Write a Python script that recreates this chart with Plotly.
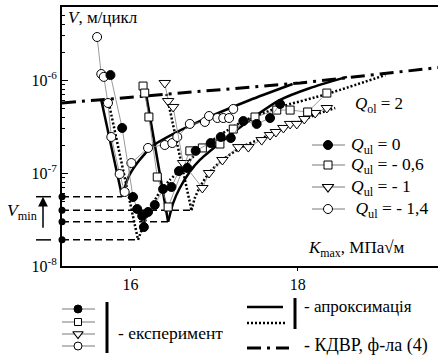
import math
import plotly.graph_objects as go

# ---------------- data ----------------
# experimental points, Q_ul = 0 (filled circles)
K_q0 = [15.76, 15.90, 16.03, 16.08, 16.14, 16.16, 16.21, 16.29, 16.39, 16.49,
        16.58, 16.68, 16.78, 16.96, 17.08, 17.20, 17.35, 17.51, 17.67, 17.79]
V_q0 = [1.13e-6, 3.05e-7, 5.52e-8, 4.10e-8, 3.45e-8, 2.62e-8, 3.81e-8, 4.53e-8, 6.73e-8, 7.07e-8,
        1.05e-7, 1.13e-7, 1.73e-7, 2.10e-7, 2.44e-7, 2.38e-7, 3.62e-7, 3.37e-7, 3.90e-7, 5.52e-7]
# Q_ul = -0.6 (squares)
K_q06 = [16.15, 16.17, 16.22, 16.32, 16.45, 16.71, 16.86, 17.07, 17.23, 17.49, 17.75, 17.91, 18.12, 18.35]
V_q06 = [8.61e-7, 7.24e-7, 4.00e-7, 9.06e-8, 4.31e-8, 1.73e-7, 1.86e-7, 2.05e-7, 2.97e-7, 4.00e-7,
         4.75e-7, 4.75e-7, 4.53e-7, 7.24e-7]
# Q_ul = -1 (triangles)
K_q1 = [16.41, 16.45, 16.51, 16.63, 16.86, 16.94, 17.10, 17.29, 17.41, 17.57, 17.67, 17.74,
        17.83, 17.91, 17.99, 18.08, 18.21, 18.35]
V_q1 = [9.29e-7, 5.94e-7, 5.13e-7, 1.28e-7, 6.90e-8, 1.00e-7, 1.38e-7, 1.90e-7, 1.90e-7, 2.26e-7,
        2.56e-7, 2.76e-7, 3.05e-7, 3.37e-7, 3.37e-7, 3.81e-7, 4.42e-7, 5.00e-7]
# Q_ul = -1.4 (open circles)
K_q14 = [15.60, 15.65, 15.68, 15.73, 15.77, 15.87, 15.93, 16.01, 16.21, 16.41, 16.50, 16.56,
         16.71, 16.89, 16.94, 17.04, 17.11, 17.18, 17.23]
V_q14 = [2.90e-6, 1.16e-6, 1.08e-6, 5.66e-7, 2.44e-7, 9.75e-8, 6.25e-8, 1.28e-7, 1.86e-7, 2.00e-7,
         2.10e-7, 2.44e-7, 3.37e-7, 3.54e-7, 4.10e-7, 3.90e-7, 3.90e-7, 3.90e-7, 4.88e-7]

# approximation curves: left (falling) branch and right (rising) branch
A14_left_K = [15.65, 15.90]
A14_left_V = [6.10e-7, 5.56e-8]
A14_right_K = [15.90, 15.97, 16.08, 16.26, 16.53, 16.83, 17.43, 17.94]
A14_right_V = [5.56e-8, 8.84e-8, 1.28e-7, 1.95e-7, 2.69e-7, 3.62e-7, 6.10e-7, 9.06e-7]

A0_left_K = [15.73, 16.09]
A0_left_V = [6.25e-7, 1.91e-8]
A0_right_K = [16.09, 16.17, 16.26, 16.35, 16.47, 16.63, 16.83, 17.07, 17.35, 17.79, 18.35, 19.05]
A0_right_V = [1.91e-8, 2.97e-8, 4.53e-8, 6.25e-8, 8.41e-8, 1.16e-7, 1.77e-7, 2.56e-7, 3.62e-7,
              5.13e-7, 7.06e-7, 1.13e-6]

A06_left_K = [16.19, 16.45]
A06_left_V = [6.73e-7, 2.99e-8]
A06_right_K = [16.45, 16.51, 16.59, 16.71, 16.83, 17.07, 17.43, 17.79, 18.15, 18.59]
A06_right_V = [2.99e-8, 4.75e-8, 6.90e-8, 1.03e-7, 1.38e-7, 2.10e-7, 3.72e-7, 6.10e-7, 8.20e-7, 1.08e-6]

A1_left_K = [16.43, 16.73]
A1_left_V = [7.06e-7, 3.97e-8]
A1_right_K = [16.73, 16.77, 16.83, 16.95, 17.10, 17.31, 17.55, 17.79, 18.03, 18.27, 18.45]
A1_right_V = [3.97e-8, 5.38e-8, 7.07e-8, 1.03e-7, 1.38e-7, 1.86e-7, 2.32e-7, 2.90e-7, 3.62e-7,
              4.42e-7, 5.00e-7]

# КДВР, formula (4)
K_kdvr = [15.18, 17.07, 18.03, 19.68]
V_kdvr = [5.66e-7, 7.79e-7, 9.29e-7, 1.36e-6]

# minimum rates V_min and the K where they occur
Vmin = [5.56e-8, 1.91e-8, 2.99e-8, 3.97e-8]
Kmin = [15.90, 16.09, 16.45, 16.73]

K_RANGE = [15.18, 19.68]
LOGV_RANGE = [-8.0, -5.215]
y_tickvals = [1e-8, 1e-7, 1e-6]
y_ticktext = ["10<sup>-8</sup>", "10<sup>-7</sup>", "10<sup>-6</sup>"]
x_tickvals = [16, 18]
x_ticktext = ["16", "18"]
q_labels = ["<i>Q</i><sub>ul</sub> = 0", "<i>Q</i><sub>ul</sub> = - 0,6",
            "<i>Q</i><sub>ul</sub> = - 1", " <i>Q</i><sub>ul</sub> = - 1,4"]

# ---------------- figure ----------------
W, H = 438, 355
FONT = "Liberation Serif"
BLACK = "black"
GRAY = "#808080"
DOT = "2px,2px"
DASHDOT = "14px,6px,3px,6px"

fig = go.Figure()

def line_tr(x, y, dash="solid", width=2.5, spline=False, **kw):
    ln = dict(color=BLACK, width=width, dash=dash)
    if spline:
        ln.update(shape="spline", smoothing=0.5)
    return go.Scatter(x=x, y=y, mode="lines", line=ln, showlegend=False, hoverinfo="skip", **kw)

# dashed V_min levels
for km, vm in zip(Kmin, Vmin):
    fig.add_trace(line_tr([K_RANGE[0], km], [vm, vm], dash="7px,4px", width=1.5))

# KDVR
fig.add_trace(line_tr(K_kdvr, V_kdvr, dash=DASHDOT, width=3))

# approximations
fig.add_trace(line_tr(A14_left_K, A14_left_V))
fig.add_trace(line_tr(A14_right_K, A14_right_V, spline=True))
fig.add_trace(line_tr(A06_left_K, A06_left_V))
fig.add_trace(line_tr(A06_right_K, A06_right_V, spline=True))
fig.add_trace(line_tr(A0_left_K, A0_left_V, dash=DOT))
fig.add_trace(line_tr(A0_right_K, A0_right_V, dash=DOT, spline=True))
fig.add_trace(line_tr(A1_left_K, A1_left_V, dash=DOT))
fig.add_trace(line_tr(A1_right_K, A1_right_V, dash=DOT, spline=True))

# experiments
series = [
    (K_q14, V_q14, dict(symbol="circle", color="white", size=9, line=dict(color=BLACK, width=1))),
    (K_q1, V_q1, dict(symbol="triangle-down", color="white", size=10, line=dict(color=BLACK, width=1))),
    (K_q06, V_q06, dict(symbol="square", color="white", size=8, line=dict(color=BLACK, width=1))),
    (K_q0, V_q0, dict(symbol="circle", color=BLACK, size=9, line=dict(color=BLACK, width=1))),
]
for kx, vy, mk in series:
    fig.add_trace(go.Scatter(x=kx, y=vy, mode="lines+markers", marker=mk,
                             line=dict(color=GRAY, width=0.8), showlegend=False, hoverinfo="skip"))

# dots on the V axis at V_min levels
fig.add_trace(go.Scatter(x=[K_RANGE[0]] * len(Vmin), y=Vmin, mode="markers",
                         marker=dict(color=BLACK, size=7), cliponaxis=False,
                         showlegend=False, hoverinfo="skip"))

# ---------------- key (legend) drawn in a hidden full-figure subplot ----------------
def key_line(x, y, dash="solid", width=2.5, color=BLACK):
    fig.add_trace(go.Scatter(x=x, y=y, mode="lines", line=dict(color=color, width=width, dash=dash),
                             xaxis="x2", yaxis="y2", showlegend=False, hoverinfo="skip"))

def key_marker(x, y, mk):
    fig.add_trace(go.Scatter(x=[x], y=[y], mode="markers", marker=mk,
                             xaxis="x2", yaxis="y2", showlegend=False, hoverinfo="skip"))

key_marks = [
    dict(symbol="circle", color=BLACK, size=9, line=dict(color=BLACK, width=1)),
    dict(symbol="square", color="white", size=8, line=dict(color=BLACK, width=1)),
    dict(symbol="triangle-down", color="white", size=10, line=dict(color=BLACK, width=1.2)),
    dict(symbol="circle", color="white", size=9, line=dict(color=BLACK, width=1)),
]
# top-right legend
rows_tr = [145, 165, 187, 209]
for yy, mk in zip(rows_tr, key_marks):
    key_line([312, 345], [yy, yy], width=0.8, color="#555")
    key_marker(328, yy, mk)
# bottom legend
rows_b = [309, 322, 334, 346]
for yy, mk in zip(rows_b, key_marks):
    key_line([62, 95], [yy, yy], width=0.8, color="#555")
    m2 = dict(mk)
    m2["size"] = mk["size"] - 1
    key_marker(78, yy, m2)
key_line([107, 107], [302, 353], width=3)
key_line([247, 283], [307, 307], width=2.5)
key_line([247, 286], [323, 323], dash=DOT, width=2.5)
key_line([295, 295], [298, 329], width=3)
key_line([247, 289], [348, 348], dash=DASHDOT, width=3)

# ---------------- annotations ----------------
def ann(text, x, y, size=17, xanchor="left"):
    fig.add_annotation(text=text, x=x / W, y=1 - y / H, xref="paper", yref="paper",
                       showarrow=False, xanchor=xanchor, yanchor="middle",
                       font=dict(family=FONT, size=size, color=BLACK))

ann("<i>V</i>, м/цикл", 66, 17, 17)
ann("<i>K</i><sub>max</sub>, МПа√м", 306, 249, 17)
ann("<i>Q</i><sub>ol</sub> = 2", 353, 105, 17)
for yy, t in zip(rows_tr, q_labels):
    ann(t, 349, yy, 17.5)
ann("- експеримент", 116, 333, 17.5)
ann("- апроксимація", 302, 306, 17)
ann("- КДВР, ф-ла (4)", 302, 345, 18)
ann("<i>V</i><sub>min</sub>", 5, 211, 17.5)

# V_min arrow with bars
ax_x = 43 / W
fig.add_annotation(x=ax_x, y=math.log10(max(Vmin)), xref="paper", yref="y",
                   ax=0, ay=41, axref="pixel", ayref="pixel", showarrow=True,
                   arrowhead=2, arrowsize=1.3, arrowwidth=1.5, arrowcolor=BLACK, text=" ")
for vv in (min(Vmin), max(Vmin)):
    fig.add_shape(type="line", xref="paper", yref="y", x0=36 / W, x1=51 / W, y0=vv, y1=vv,
                  line=dict(color=BLACK, width=1.5))

fig.update_layout(
    width=W, height=H,
    margin=dict(l=0, r=0, t=0, b=0, pad=0, autoexpand=False),
    paper_bgcolor="white", plot_bgcolor="rgba(0,0,0,0)",
    font=dict(family=FONT, color=BLACK, size=16),
    showlegend=False,
    xaxis=dict(domain=[62 / W, 1], range=K_RANGE, showgrid=False, zeroline=False, automargin=False,
               showline=True, linecolor=BLACK, linewidth=2, mirror=True,
               tickmode="array", tickvals=x_tickvals, ticktext=x_ticktext,
               ticks="outside", ticklen=3, tickcolor=BLACK,
               tickfont=dict(family=FONT, size=16, color=BLACK)),
    yaxis=dict(domain=[1 - 266 / H, 1 - 7 / H], type="log", range=LOGV_RANGE, automargin=False,
               showgrid=False, zeroline=False, showline=True, linecolor=BLACK, linewidth=2,
               tickmode="array", tickvals=y_tickvals, ticktext=y_ticktext,
               ticks="inside", ticklen=6, tickcolor=BLACK,
               minor=dict(tickmode="array",
                          tickvals=[m * 10.0 ** e for e in (-8, -7, -6) for m in range(2, 10)],
                          ticks="inside", ticklen=3, tickcolor=BLACK, showgrid=False),
               tickfont=dict(family=FONT, size=16, color=BLACK)),
    xaxis2=dict(domain=[0, 1], range=[0, W], visible=False, anchor="y2", fixedrange=True,
                automargin=False),
    yaxis2=dict(domain=[0, 1], range=[H, 0], visible=False, anchor="x2", fixedrange=True,
                automargin=False),
)

fig.write_html("out.html")
